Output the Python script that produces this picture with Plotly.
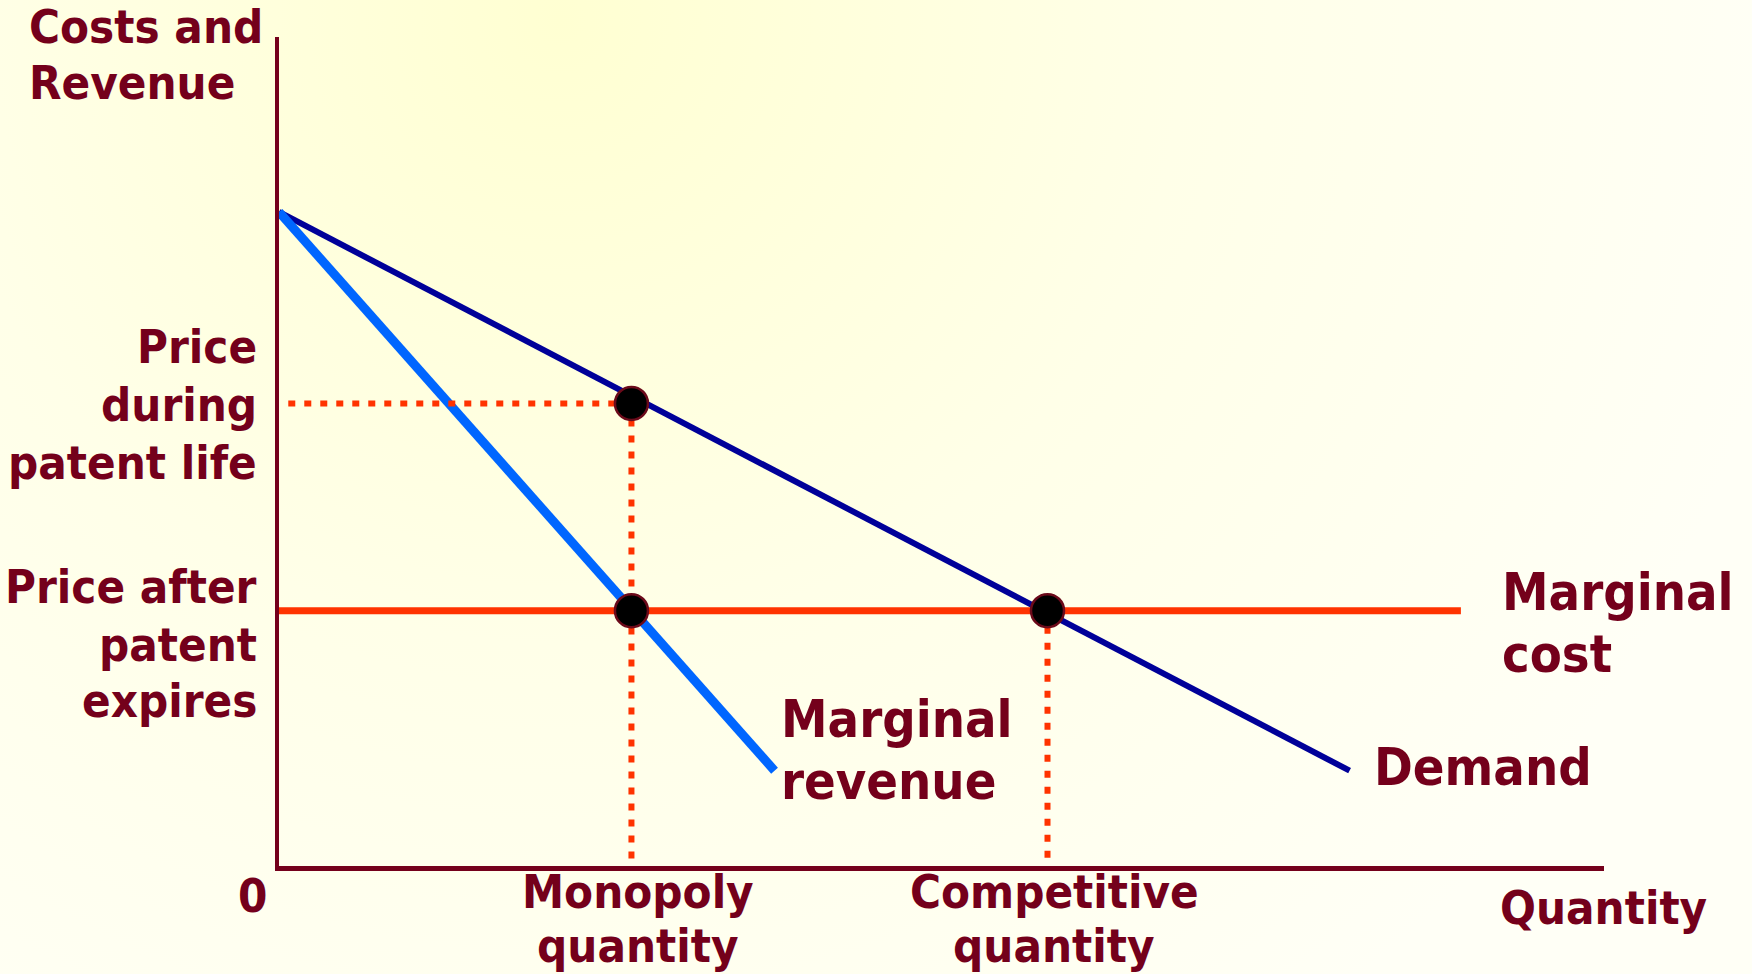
import base64
import plotly.graph_objects as go

# ---- data (arbitrary units: quantity 0-10, price 0-10) ----
demand_q = [0.0, 8.08]
demand_p = [7.89, 1.15]
mr_q = [0.0, 3.74]
mr_p = [7.89, 1.15]
mc_q = [0.0, 8.92]
mc_p = [3.08, 3.08]
q_monopoly = 2.66
q_competitive = 5.80
p_monopoly = 5.58
p_after = 3.08
dot_start_q = 0.07

W, H = 1752, 974
TXT = "#74001B"
FONT = "DejaVu Sans Condensed, DejaVu Sans, sans-serif"

fig = go.Figure()

# Demand
fig.add_trace(go.Scatter(x=demand_q, y=demand_p, mode="lines",
                         line=dict(color="#000099", width=6), hoverinfo="skip"))
# Marginal revenue
fig.add_trace(go.Scatter(x=mr_q, y=mr_p, mode="lines",
                         line=dict(color="#0066FF", width=9), hoverinfo="skip"))
# Marginal cost
fig.add_trace(go.Scatter(x=mc_q, y=mc_p, mode="lines",
                         line=dict(color="#FF3300", width=7), hoverinfo="skip"))
# dotted guides
dot = dict(color="#FF3300", width=6, dash="7px,9px")
fig.add_trace(go.Scatter(x=[dot_start_q, q_monopoly], y=[p_monopoly, p_monopoly],
                         mode="lines", line=dot, hoverinfo="skip"))
fig.add_trace(go.Scatter(x=[q_monopoly, q_monopoly], y=[p_monopoly, 0],
                         mode="lines", line=dot, hoverinfo="skip"))
fig.add_trace(go.Scatter(x=[q_competitive, q_competitive], y=[p_after, 0],
                         mode="lines", line=dot, hoverinfo="skip"))
# equilibrium points
fig.add_trace(go.Scatter(x=[q_monopoly, q_monopoly, q_competitive],
                         y=[p_monopoly, p_after, p_after], mode="markers",
                         marker=dict(size=33, color="black",
                                     line=dict(color="#6B0A1A", width=2.5)),
                         hoverinfo="skip"))

# background radial gradient (svg)
svg = (f"<svg xmlns='http://www.w3.org/2000/svg' width='{W}' height='{H}'>"
       "<defs><radialGradient id='g' cx='560' cy='20' r='1250' gradientUnits='userSpaceOnUse'>"
       "<stop offset='0' stop-color='#FFFFD2'/><stop offset='0.5' stop-color='#FFFFE8'/>"
       "<stop offset='1' stop-color='#FFFFF6'/></radialGradient></defs>"
       f"<rect width='{W}' height='{H}' fill='url(#g)'/></svg>")
src = "data:image/svg+xml;base64," + base64.b64encode(svg.encode()).decode()

def px(x):
    return x / W

def py(y):
    return 1 - y / H

annos = []
def lab(text, x, y, size, xanchor):
    annos.append(dict(text=f"<b>{text}</b>", x=px(x), y=py(y), xref="paper", yref="paper",
                      xanchor=xanchor, yanchor="middle", showarrow=False,
                      font=dict(family=FONT, size=size, color=TXT)))

L = 47
R = 52
lab("Costs and", 27, 26, L, "left")
lab("Revenue", 27, 83, L, "left")
lab("Price", 259, 346, L, "right")
lab("during", 259, 404, L, "right")
lab("patent life", 259, 462, L, "right")
lab("Price after", 259, 586, L, "right")
lab("patent", 259, 644, L, "right")
lab("expires", 259, 700, L, "right")
lab("Marginal", 1500, 592, R, "left")
lab("cost", 1500, 654, R, "left")
lab("Demand", 1372, 767, R, "left")
lab("Marginal", 779, 719, R, "left")
lab("revenue", 779, 781, R, "left")
lab("0", 252, 895, L, "center")
lab("Monopoly", 638, 891, L, "center")
lab("quantity", 638, 945, L, "center")
lab("Competitive", 1054, 891, L, "center")
lab("quantity", 1054, 945, L, "center")
lab("Quantity", 1603, 907, L, "center")

fig.update_layout(
    width=W, height=H,
    margin=dict(l=0, r=0, t=0, b=0),
    paper_bgcolor="#FFFFF6",
    plot_bgcolor="rgba(0,0,0,0)",
    showlegend=False,
    annotations=annos,
    images=[dict(source=src, xref="paper", yref="paper", x=0, y=1, sizex=1, sizey=1,
                 sizing="stretch", layer="below", xanchor="left", yanchor="top")],
    xaxis=dict(range=[0, 10], domain=[279 / W, 1604 / W], showline=True, linecolor=TXT,
               linewidth=5, showgrid=False, zeroline=False, showticklabels=False,
               ticks="", fixedrange=True),
    yaxis=dict(range=[0, 10], domain=[1 - 866 / H, 1 - 37 / H], showline=True, linecolor=TXT,
               linewidth=4, showgrid=False, zeroline=False, showticklabels=False,
               ticks="", fixedrange=True),
)

fig.write_html("out.html", config={"displayModeBar": False},
               post_script="document.body.style.margin='0';document.body.style.overflow='hidden';")
